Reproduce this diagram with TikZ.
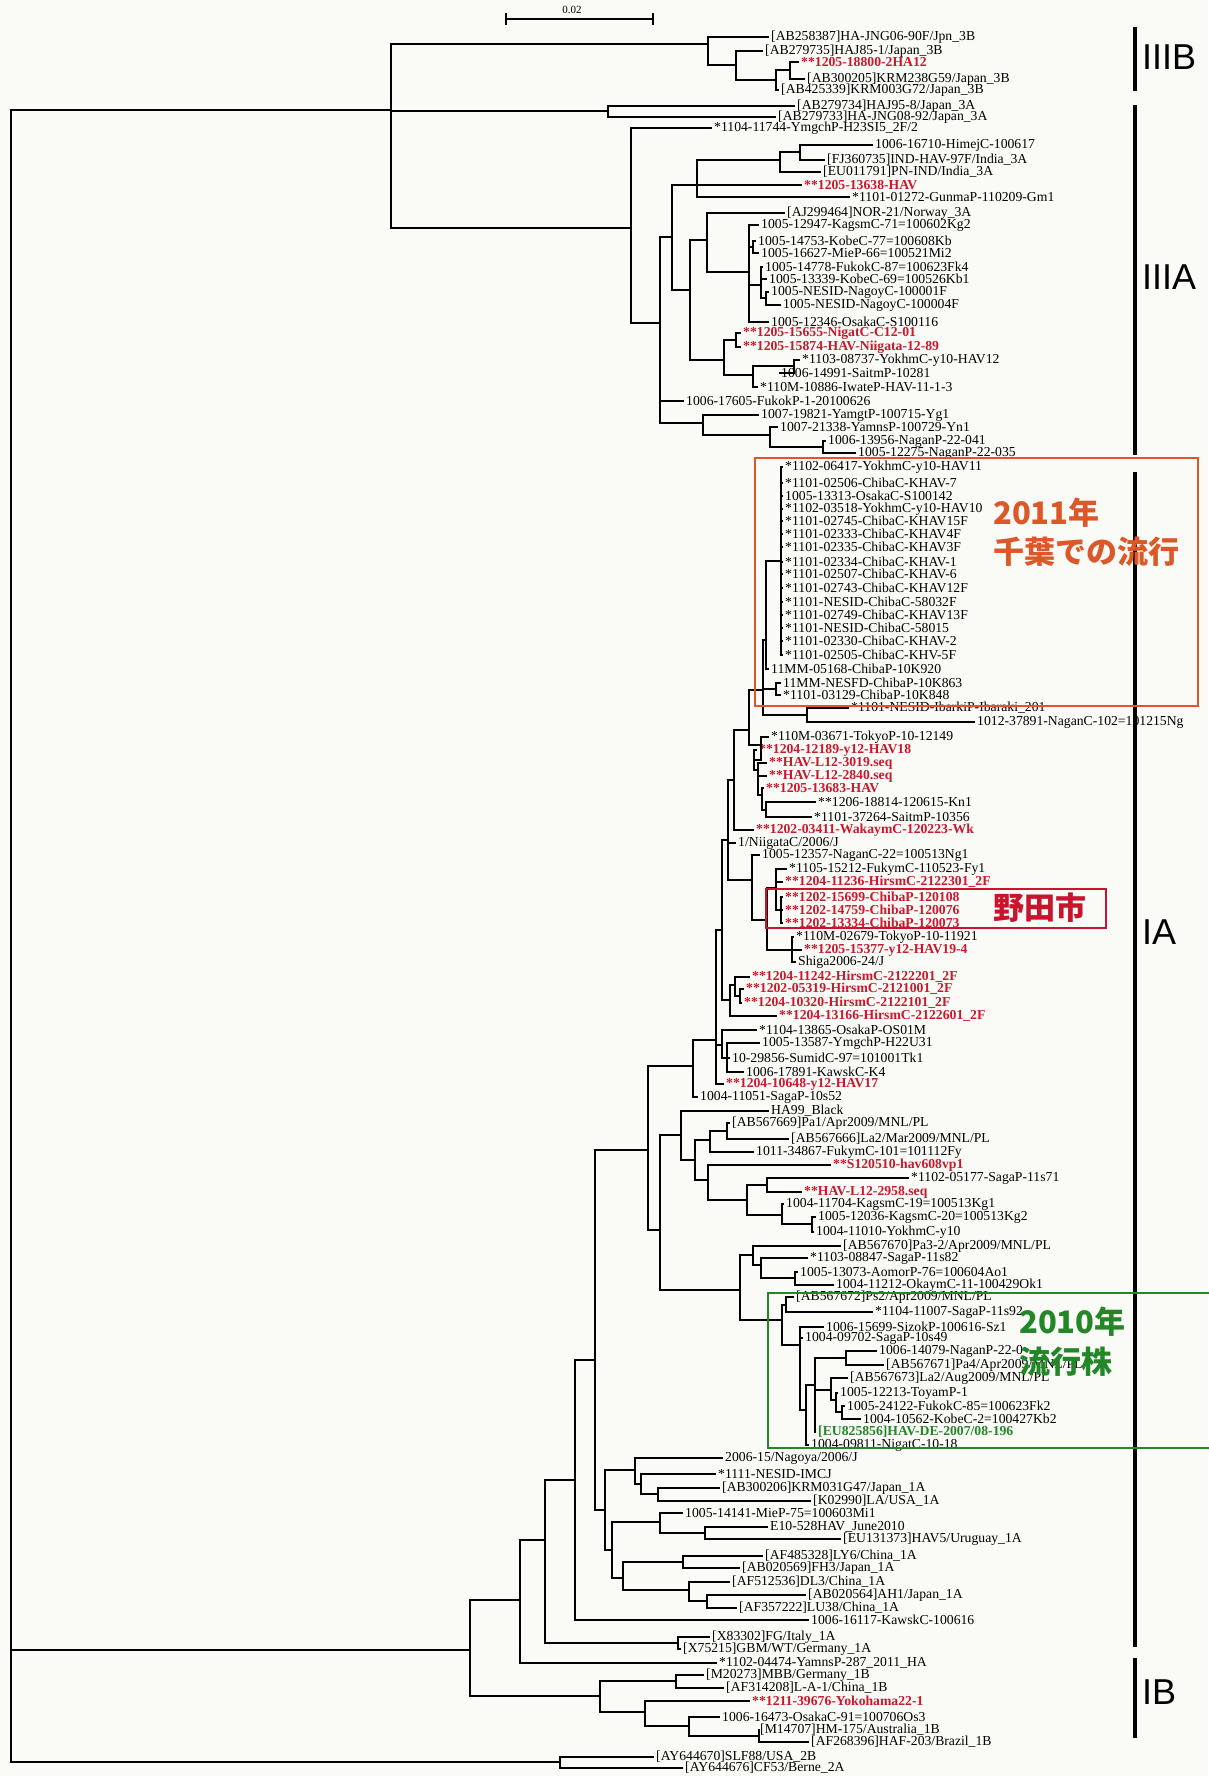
\documentclass[tikz,border=0pt]{standalone}
\usepackage{fontspec}
\setmainfont{Liberation Serif}
\newfontfamily\cladefont{Liberation Sans}
\newfontfamily\jpfont{Noto Sans CJK JP}
\usetikzlibrary{positioning}
\definecolor{hitred}{RGB}{200,25,45}
\definecolor{chibaor}{RGB}{220,88,40}
\definecolor{nodared}{RGB}{200,20,45}
\definecolor{epigreen}{RGB}{35,135,40}
\definecolor{paper}{RGB}{250,250,246}

\begin{document}
\begin{tikzpicture}[x=1pt, y=-1pt,
  br/.style={line width=2.2pt},
  tip/.style={anchor=west, inner xsep=2pt, inner ysep=0pt, font={\fontsize{13.7}{13}\selectfont}},
  tipr/.style={tip, text=hitred, font={\fontsize{13.7}{13}\selectfont\bfseries}},
  tipg/.style={tip, text=epigreen, font={\fontsize{13.7}{13}\selectfont\bfseries}},
  clade/.style={anchor=west, inner sep=0pt, font={\cladefont\fontsize{36}{36}\selectfont}},
  bar/.style={line width=3.4pt},
  note/.style={anchor=west, inner sep=0pt, font={\jpfont\bfseries\fontsize{31}{33}\selectfont}}
]
\fill[paper] (0,0) rectangle (1208,1776);
\useasboundingbox (0,0) rectangle (1208,1776);

% scale bar
\coordinate (sb0) at (506,19);
\coordinate (sb1) at (653,19);
\draw[line width=1.6pt] (sb0) -- (sb1) (506,13) -- (506,25) (653,13) -- (653,25);
\node[font={\fontsize{11}{11}\selectfont}] (sbl) at (572,10) {0.02};

% ---- genotype III ----
\node[tip] (t1) at (769,37) {[AB258387]HA-JNG06-90F/Jpn\_3B};
\node[tip] (t2) at (763,51) {[AB279735]HAJ85-1/Japan\_3B};
\node[tipr] (t3) at (799,62) {**1205-18800-2HA12};
\node[tip] (t4) at (805,79) {[AB300205]KRM238G59/Japan\_3B};
\node[tip] (t5) at (779,90) {[AB425339]KRM003G72/Japan\_3B};
\node[tip] (t6) at (795,106) {[AB279734]HAJ95-8/Japan\_3A};
\node[tip] (t7) at (776,117) {[AB279733]HA-JNG08-92/Japan\_3A};
\node[tip] (t8) at (712,128) {*1104-11744-YmgchP-H23SI5\_2F/2};
\node[tip] (t9) at (873,145) {1006-16710-HimejC-100617};
\node[tip] (t10) at (825,160) {[FJ360735]IND-HAV-97F/India\_3A};
\node[tip] (t11) at (821,172) {[EU011791]PN-IND/India\_3A};
\node[tipr] (t12) at (802,185) {**1205-13638-HAV};
\node[tip] (t13) at (850,197) {*1101-01272-GunmaP-110209-Gm1};
\node[tip] (t14) at (785,213) {[AJ299464]NOR-21/Norway\_3A};
\node[tip] (t15) at (759,225) {1005-12947-KagsmC-71=100602Kg2};
\node[tip] (t16) at (756,241) {1005-14753-KobeC-77=100608Kb};
\node[tip] (t17) at (759,253) {1005-16627-MieP-66=100521Mi2};
\node[tip] (t18) at (763,267) {1005-14778-FukokC-87=100623Fk4};
\node[tip] (t19) at (767,279) {1005-13339-KobeC-69=100526Kb1};
\node[tip] (t20) at (769,292) {1005-NESID-NagoyC-100001F};
\node[tip] (t21) at (781,305) {1005-NESID-NagoyC-100004F};
\node[tip] (t22) at (769,322) {1005-12346-OsakaC-S100116};
\node[tipr] (t23) at (741,333) {**1205-15655-NigatC-C12-01};
\node[tipr] (t24) at (741,347) {**1205-15874-HAV-Niigata-12-89};
\node[tip] (t25) at (800,360) {*1103-08737-YokhmC-y10-HAV12};
\node[tip] (t26) at (779,373) {1006-14991-SaitmP-10281};
\node[tip] (t27) at (758,387) {*110M-10886-IwateP-HAV-11-1-3};
\node[tip] (t28) at (684,401) {1006-17605-FukokP-1-20100626};
\node[tip] (t29) at (759,415) {1007-19821-YamgtP-100715-Yg1};
\node[tip] (t30) at (778,427) {1007-21338-YamnsP-100729-Yn1};
\node[tip] (t31) at (826,441) {1006-13956-NaganP-22-041};
\node[tip] (t32) at (856,453) {1005-12275-NaganP-22-035};

\coordinate (n3b3) at (790,70);
\coordinate (n3b2) at (776,80);
\coordinate (n3b1) at (736,65);
\coordinate (n3b) at (708,44);
\coordinate (n3a) at (608,111);
\coordinate (nA) at (800,152);
\coordinate (nB) at (780,160);
\coordinate (nD) at (697,185);
\coordinate (nJq) at (753,247);
\coordinate (nJs) at (766,298);
\coordinate (nJr) at (761,285);
\coordinate (nJp) at (749,272);
\coordinate (nJ) at (707,240);
\coordinate (nKz) at (794,366);
\coordinate (nKy) at (753,375);
\coordinate (nKn) at (736,340);
\coordinate (nK) at (724,360);
\coordinate (nI) at (690,290);
\coordinate (nE) at (672,237);
\coordinate (nR) at (823,447);
\coordinate (nQ) at (770,435);
\coordinate (nN) at (703,423);
\coordinate (nG) at (660,323);
\coordinate (nF) at (631,228);
\coordinate (nIII) at (391,110);

\draw[br] (n3b3) |- (t3.west) (n3b3) |- (t4.west);
\draw[br] (n3b2) |- (n3b3) (n3b2) |- (t5.west);
\draw[br] (n3b1) |- (t2.west) (n3b1) |- (n3b2);
\draw[br] (n3b) |- (t1.west) (n3b) |- (n3b1);
\draw[br] (n3a) |- (t6.west) (n3a) |- (t7.west);
\draw[br] (nA) |- (t9.west) (nA) |- (t10.west);
\draw[br] (nB) |- (nA) (nB) |- (t11.west);
\draw[br] (nD) |- (nB) (nD) |- (t12.west) (nD) |- (t13.west);
\draw[br] (nJq) |- (t16.west) (nJq) |- (t17.west);
\draw[br] (nJs) |- (t20.west) (nJs) |- (t21.west);
\draw[br] (nJr) |- (t18.west) (nJr) |- (t19.west) (nJr) |- (nJs);
\draw[br] (nJp) |- (t15.west) (nJp) |- (nJq) (nJp) |- (nJr) (nJp) |- (t22.west);
\draw[br] (nJ) |- (t14.west) (nJ) |- (nJp);
\draw[br] (nKz) |- (t25.west) (nKz) |- (t26.west);
\draw[br] (nKy) |- (nKz) (nKy) |- (t27.west);
\draw[br] (nKn) |- (t23.west) (nKn) |- (t24.west);
\draw[br] (nK) |- (nKn) (nK) |- (nKy);
\draw[br] (nI) |- (nJ) (nI) |- (nK);
\draw[br] (nE) |- (nD) (nE) |- (nI);
\draw[br] (nR) |- (t31.west) (nR) |- (t32.west);
\draw[br] (nQ) |- (t30.west) (nQ) |- (nR);
\draw[br] (nN) |- (t29.west) (nN) |- (nQ);
\draw[br] (nG) |- (nE) (nG) |- (t28.west) (nG) |- (nN);
\draw[br] (nF) |- (t8.west) (nF) |- (nG);
\draw[br] (nIII) |- (n3b) (nIII) |- (n3a) (nIII) |- (nF);

% ---- genotype IA: 2011 Chiba cluster and neighbours ----
\node[tip] (c1) at (783,467) {*1102-06417-YokhmC-y10-HAV11};
\node[tip] (c2) at (783,483) {*1101-02506-ChibaC-KHAV-7};
\node[tip] (c3) at (783,496) {1005-13313-OsakaC-S100142};
\node[tip] (c4) at (783,509) {*1102-03518-YokhmC-y10-HAV10};
\node[tip] (c5) at (783,521) {*1101-02745-ChibaC-KHAV15F};
\node[tip] (c6) at (783,534) {*1101-02333-ChibaC-KHAV4F};
\node[tip] (c7) at (783,547) {*1101-02335-ChibaC-KHAV3F};
\node[tip] (c8) at (783,562) {*1101-02334-ChibaC-KHAV-1};
\node[tip] (c9) at (783,574) {*1101-02507-ChibaC-KHAV-6};
\node[tip] (c10) at (783,588) {*1101-02743-ChibaC-KHAV12F};
\node[tip] (c11) at (783,602) {*1101-NESID-ChibaC-58032F};
\node[tip] (c12) at (783,615) {*1101-02749-ChibaC-KHAV13F};
\node[tip] (c13) at (783,628) {*1101-NESID-ChibaC-58015};
\node[tip] (c14) at (783,641) {*1101-02330-ChibaC-KHAV-2};
\node[tip] (c15) at (783,655) {*1101-02505-ChibaC-KHV-5F};
\node[tip] (a1) at (769,669) {11MM-05168-ChibaP-10K920};
\node[tip] (a2) at (781,683) {11MM-NESFD-ChibaP-10K863};
\node[tip] (a3) at (781,695) {*1101-03129-ChibaP-10K848};
\node[tip] (a4) at (849,708) {*1101-NESID-IbarkiP-Ibaraki\_201};
\node[tip] (a5) at (975,722) {1012-37891-NaganC-102=101215Ng};
\node[tip] (a6) at (769,737) {*110M-03671-TokyoP-10-12149};
\node[tipr] (a7) at (757,750) {**1204-12189-y12-HAV18};
\node[tipr] (a8) at (767,763) {**HAV-L12-3019.seq};
\node[tipr] (a9) at (767,776) {**HAV-L12-2840.seq};
\node[tipr] (a10) at (764,788) {**1205-13683-HAV};
\node[tip] (a11) at (816,802) {**1206-18814-120615-Kn1};
\node[tip] (a12) at (812,817) {*1101-37264-SaitmP-10356};
\node[tipr] (a13) at (754,830) {**1202-03411-WakaymC-120223-Wk};
\node[tip] (b1) at (736,843) {1/NiigataC/2006/J};
\node[tip] (b2) at (760,855) {1005-12357-NaganC-22=100513Ng1};
\node[tip] (b3) at (787,869) {*1105-15212-FukymC-110523-Fy1};
\node[tipr] (b4) at (783,882) {**1204-11236-HirsmC-2122301\_2F};
\node[tipr] (b5) at (783,897) {**1202-15699-ChibaP-120108};
\node[tipr] (b6) at (783,910) {**1202-14759-ChibaP-120076};
\node[tipr] (b7) at (783,923) {**1202-13334-ChibaP-120073};
\node[tip] (b8) at (794,937) {*110M-02679-TokyoP-10-11921};
\node[tipr] (b9) at (802,950) {**1205-15377-y12-HAV19-4};
\node[tip] (b10) at (796,962) {Shiga2006-24/J};
\node[tipr] (b11) at (750,977) {**1204-11242-HirsmC-2122201\_2F};
\node[tipr] (b12) at (744,989) {**1202-05319-HirsmC-2121001\_2F};
\node[tipr] (b13) at (742,1003) {**1204-10320-HirsmC-2122101\_2F};
\node[tipr] (b14) at (777,1016) {**1204-13166-HirsmC-2122601\_2F};
\node[tip] (b15) at (757,1030) {*1104-13865-OsakaP-OS01M};
\node[tip] (b16) at (760,1043) {1005-13587-YmgchP-H22U31};
\node[tip] (b17) at (730,1058) {10-29856-SumidC-97=101001Tk1};
\node[tip] (b18) at (744,1072) {1006-17891-KawskC-K4};
\node[tipr] (b19) at (724,1084) {**1204-10648-y12-HAV17};
\node[tip] (b20) at (698,1097) {1004-11051-SagaP-10s52};

\coordinate (poly) at (781,561);
\coordinate (ch1) at (766,640);
\coordinate (ch3) at (776,689);
\coordinate (ch4) at (807,715);
\coordinate (ch2) at (763,690);
\coordinate (r1) at (766,810);
\coordinate (r2) at (762,795);
\coordinate (r3) at (758,770);
\coordinate (r4) at (754,760);
\coordinate (tb) at (761,745);
\coordinate (ta) at (749,730);
\coordinate (tc) at (734,780);
\coordinate (nd) at (781,910);
\coordinate (nc) at (776,888);
\coordinate (ns) at (792,950);
\coordinate (nb) at (767,920);
\coordinate (na) at (752,880);
\coordinate (q3) at (728,840);
\coordinate (hh1) at (740,996);
\coordinate (hh2) at (735,985);
\coordinate (hh3) at (730,1000);
\coordinate (q2) at (722,930);
\coordinate (s1) at (727,1058);
\coordinate (s2) at (722,1045);
\coordinate (q1) at (716,1040);
\coordinate (q0) at (693,1066);

\draw[br] (poly) |- (c1.west) (poly) |- (c2.west) (poly) |- (c3.west) (poly) |- (c4.west)
  (poly) |- (c5.west) (poly) |- (c6.west) (poly) |- (c7.west) (poly) |- (c8.west)
  (poly) |- (c9.west) (poly) |- (c10.west) (poly) |- (c11.west) (poly) |- (c12.west)
  (poly) |- (c13.west) (poly) |- (c14.west) (poly) |- (c15.west);
\draw[br] (ch1) |- (poly) (ch1) |- (a1.west);
\draw[br] (ch3) |- (a2.west) (ch3) |- (a3.west);
\draw[br] (ch4) |- (a4.west) (ch4) |- (a5.west);
\draw[br] (ch2) |- (ch1) (ch2) |- (ch3) (ch2) |- (ch4);
\draw[br] (r1) |- (a11.west) (r1) |- (a12.west);
\draw[br] (r2) |- (a10.west) (r2) |- (r1);
\draw[br] (r3) |- (a8.west) (r3) |- (a9.west) (r3) |- (r2);
\draw[br] (r4) |- (a7.west) (r4) |- (r3);
\draw[br] (tb) |- (a6.west) (tb) |- (r4);
\draw[br] (ta) |- (ch2) (ta) |- (tb);
\draw[br] (tc) |- (ta) (tc) |- (a13.west);
\draw[br] (nd) |- (b5.west) (nd) |- (b6.west) (nd) |- (b7.west);
\draw[br] (nc) |- (b3.west) (nc) |- (b4.west) (nc) |- (nd);
\draw[br] (ns) |- (b8.west) (ns) |- (b9.west) (ns) |- (b10.west);
\draw[br] (nb) |- (nc) (nb) |- (ns);
\draw[br] (na) |- (b2.west) (na) |- (nb);
\draw[br] (q3) |- (tc) (q3) |- (b1.west) (q3) |- (na);
\draw[br] (hh1) |- (b12.west) (hh1) |- (b13.west);
\draw[br] (hh2) |- (b11.west) (hh2) |- (hh1);
\draw[br] (hh3) |- (hh2) (hh3) |- (b14.west);
\draw[br] (q2) |- (q3) (q2) |- (hh3);
\draw[br] (s1) |- (b16.west) (s1) |- (b17.west) (s1) |- (b18.west);
\draw[br] (s2) |- (b15.west) (s2) |- (s1);
\draw[br] (q1) |- (q2) (q1) |- (s2) (q1) |- (b19.west);
\draw[br] (q0) |- (q1) (q0) |- (b20.west);

% ---- genotype IA: 2009/2010 strains ----
\node[tip] (h1) at (769,1111) {HA99\_Black};
\node[tip] (h2) at (730,1123) {[AB567669]Pa1/Apr2009/MNL/PL};
\node[tip] (h3) at (789,1139) {[AB567666]La2/Mar2009/MNL/PL};
\node[tip] (h4) at (754,1152) {1011-34867-FukymC-101=101112Fy};
\node[tipr] (h5) at (831,1165) {**S120510-hav608vp1};
\node[tip] (h6) at (909,1178) {*1102-05177-SagaP-11s71};
\node[tipr] (h7) at (802,1192) {**HAV-L12-2958.seq};
\node[tip] (h8) at (784,1204) {1004-11704-KagsmC-19=100513Kg1};
\node[tip] (h9) at (816,1217) {1005-12036-KagsmC-20=100513Kg2};
\node[tip] (h10) at (814,1232) {1004-11010-YokhmC-y10};
\node[tip] (h11) at (841,1246) {[AB567670]Pa3-2/Apr2009/MNL/PL};
\node[tip] (h12) at (808,1258) {*1103-08847-SagaP-11s82};
\node[tip] (h13) at (798,1272) {1005-13073-AomorP-76=100604Ao1};
\node[tip] (h14) at (834,1285) {1004-11212-OkaymC-11-100429Ok1};
\node[tip] (g1) at (794,1297) {[AB567672]Ps2/Apr2009/MNL/PL};
\node[tip] (g2) at (873,1312) {*1104-11007-SagaP-11s92};
\node[tip] (g3) at (824,1327) {1006-15699-SizokP-100616-Sz1};
\node[tip] (g4) at (803,1338) {1004-09702-SagaP-10s49};
\node[tip] (g5) at (877,1351) {1006-14079-NaganP-22-0};
\node[tip] (g6) at (884,1365) {[AB567671]Pa4/Apr2009/MNL/PL};
\node[tip] (g7) at (848,1378) {[AB567673]La2/Aug2009/MNL/PL};
\node[tip] (g8) at (838,1393) {1005-12213-ToyamP-1};
\node[tip] (g9) at (845,1406) {1005-24122-FukokC-85=100623Fk2};
\node[tip] (g10) at (861,1419) {1004-10562-KobeC-2=100427Kb2};
\node[tipg] (g11) at (816,1432) {[EU825856]HAV-DE-2007/08-196};
\node[tip] (g12) at (809,1445) {1004-09811-NigatC-10-18};

\coordinate (cpa) at (727,1131);
\coordinate (ca) at (710,1140);
\coordinate (csh) at (767,1185);
\coordinate (ckg2) at (812,1224);
\coordinate (ckg) at (782,1215);
\coordinate (csg) at (747,1200);
\coordinate (cb) at (708,1180);
\coordinate (cab) at (695,1160);
\coordinate (ch) at (681,1135);
\coordinate (cok) at (795,1278);
\coordinate (cao) at (761,1265);
\coordinate (cpa3) at (753,1255);
\coordinate (gps) at (786,1305);
\coordinate (gpa4) at (846,1358);
\coordinate (gt3) at (842,1412);
\coordinate (gt2) at (836,1400);
\coordinate (gt1) at (831,1390);
\coordinate (gx) at (815,1385);
\coordinate (gy) at (806,1410);
\coordinate (gz) at (800,1345);
\coordinate (ga) at (782,1320);
\coordinate (cm) at (740,1290);
\coordinate (ctop) at (660,1230);
\coordinate (qq) at (648,1150);

\draw[br] (cpa) |- (h2.west) (cpa) |- (h3.west);
\draw[br] (ca) |- (cpa) (ca) |- (h4.west);
\draw[br] (csh) |- (h6.west) (csh) |- (h7.west);
\draw[br] (ckg2) |- (h9.west) (ckg2) |- (h10.west);
\draw[br] (ckg) |- (h8.west) (ckg) |- (ckg2);
\draw[br] (csg) |- (csh) (csg) |- (ckg);
\draw[br] (cb) |- (h5.west) (cb) |- (csg);
\draw[br] (cab) |- (ca) (cab) |- (cb);
\draw[br] (ch) |- (h1.west) (ch) |- (cab);
\draw[br] (cok) |- (h13.west) (cok) |- (h14.west);
\draw[br] (cao) |- (h12.west) (cao) |- (cok);
\draw[br] (cpa3) |- (h11.west) (cpa3) |- (cao);
\draw[br] (gps) |- (g1.west) (gps) |- (g2.west);
\draw[br] (gpa4) |- (g5.west) (gpa4) |- (g6.west);
\draw[br] (gt3) |- (g9.west) (gt3) |- (g10.west);
\draw[br] (gt2) |- (g8.west) (gt2) |- (gt3);
\draw[br] (gt1) |- (g7.west) (gt1) |- (gt2);
\draw[br] (gx) |- (gpa4) (gx) |- (gt1) (gx) |- (g11.west);
\draw[br] (gy) |- (gx) (gy) |- (g12.west);
\draw[br] (gz) |- (g3.west) (gz) |- (g4.west) (gz) |- (gy);
\draw[br] (ga) |- (gps) (ga) |- (gz);
\draw[br] (cm) |- (cpa3) (cm) |- (ga);
\draw[br] (ctop) |- (ch) (ctop) |- (cm);
\draw[br] (qq) |- (q0) (qq) |- (ctop);

% ---- IA references, IB, genotype II ----
\node[tip] (d1) at (723,1458) {2006-15/Nagoya/2006/J};
\node[tip] (d2) at (716,1474) {*1111-NESID-IMCJ};
\node[tip] (d3) at (720,1488) {[AB300206]KRM031G47/Japan\_1A};
\node[tip] (d4) at (811,1501) {[K02990]LA/USA\_1A};
\node[tip] (d5) at (683,1513) {1005-14141-MieP-75=100603Mi1};
\node[tip] (d6) at (768,1527) {E10-528HAV\_June2010};
\node[tip] (d7) at (841,1539) {[EU131373]HAV5/Uruguay\_1A};
\node[tip] (d8) at (763,1556) {[AF485328]LY6/China\_1A};
\node[tip] (d9) at (740,1568) {[AB020569]FH3/Japan\_1A};
\node[tip] (d10) at (730,1582) {[AF512536]DL3/China\_1A};
\node[tip] (d11) at (806,1595) {[AB020564]AH1/Japan\_1A};
\node[tip] (d12) at (737,1608) {[AF357222]LU38/China\_1A};
\node[tip] (d13) at (809,1620) {1006-16117-KawskC-100616};
\node[tip] (e1) at (710,1637) {[X83302]FG/Italy\_1A};
\node[tip] (e2) at (681,1649) {[X75215]GBM/WT/Germany\_1A};
\node[tip] (e3) at (717,1663) {*1102-04474-YamnsP-287\_2011\_HA};
\node[tip] (e4) at (704,1675) {[M20273]MBB/Germany\_1B};
\node[tip] (e5) at (724,1688) {[AF314208]L-A-1/China\_1B};
\node[tipr] (e6) at (750,1701) {**1211-39676-Yokohama22-1};
\node[tip] (e7) at (720,1717) {1006-16473-OsakaC-91=100706Os3};
\node[tip] (e8) at (758,1730) {[M14707]HM-175/Australia\_1B};
\node[tip] (e9) at (809,1742) {[AF268396]HAF-203/Brazil\_1B};
\node[tip] (e10) at (654,1757) {[AY644670]SLF88/USA\_2B};
\node[tip] (e11) at (683,1768) {[AY644676]CF53/Berne\_2A};

\coordinate (dk) at (658,1494);
\coordinate (dn2) at (641,1484);
\coordinate (dn) at (635,1470);
\coordinate (de) at (705,1533);
\coordinate (dm) at (660,1522);
\coordinate (dly) at (683,1562);
\coordinate (dch2) at (707,1601);
\coordinate (dch1) at (689,1590);
\coordinate (dc) at (623,1578);
\coordinate (dx) at (612,1550);
\coordinate (dtop) at (605,1510);
\coordinate (eu) at (678,1643);
\coordinate (ib4) at (759,1736);
\coordinate (ib3) at (689,1726);
\coordinate (ib2) at (645,1712);
\coordinate (ib1) at (676,1681);
\coordinate (nIB) at (600,1696);
\coordinate (iax) at (595,1360);
\coordinate (iay) at (575,1480);
\coordinate (iaz) at (545,1540);
\coordinate (nIA) at (520,1600);
\coordinate (nI) at (470,1650);
\coordinate (nII) at (560,1762);
\coordinate (root) at (11,900);

\draw[br] (dk) |- (d3.west) (dk) |- (d4.west);
\draw[br] (dn2) |- (d2.west) (dn2) |- (dk);
\draw[br] (dn) |- (d1.west) (dn) |- (dn2);
\draw[br] (de) |- (d6.west) (de) |- (d7.west);
\draw[br] (dm) |- (d5.west) (dm) |- (de);
\draw[br] (dly) |- (d8.west) (dly) |- (d9.west);
\draw[br] (dch2) |- (d11.west) (dch2) |- (d12.west);
\draw[br] (dch1) |- (d10.west) (dch1) |- (dch2);
\draw[br] (dc) |- (dly) (dc) |- (dch1);
\draw[br] (dx) |- (dm) (dx) |- (dc);
\draw[br] (dtop) |- (dn) (dtop) |- (dx);
\draw[br] (eu) |- (e1.west) (eu) |- (e2.west);
\draw[br] (ib4) |- (e8.west) (ib4) |- (e9.west);
\draw[br] (ib3) |- (e7.west) (ib3) |- (ib4);
\draw[br] (ib2) |- (e6.west) (ib2) |- (ib3);
\draw[br] (ib1) |- (e4.west) (ib1) |- (e5.west);
\draw[br] (nIB) |- (ib1) (nIB) |- (ib2);
\draw[br] (iax) |- (qq) (iax) |- (dtop);
\draw[br] (iay) |- (iax) (iay) |- (d13.west);
\draw[br] (iaz) |- (iay) (iaz) |- (eu);
\draw[br] (nIA) |- (iaz) (nIA) |- (e3.west);
\draw[br] (nI) |- (nIA) (nI) |- (nIB);
\draw[br] (nII) |- (e10.west) (nII) |- (e11.west);
\draw[br] (root) |- (nIII) (root) |- (nI) (root) |- (nII);

% ---- clade bars ----
\draw[bar] (1135,27) -- (1135,91);
\draw[bar] (1135,105) -- (1135,455);
\draw[bar] (1135,472) -- (1135,1647);
\draw[bar] (1135,1658) -- (1135,1738);
\node[clade] (k3b) at (1142,57) {IIIB};
\node[clade] (k3a) at (1142,277) {IIIA};
\node[clade] (k1a) at (1142,932) {IA};
\node[clade] (k1b) at (1142,1692) {IB};

% ---- highlighted groups ----
\draw[chibaor, line width=2.6pt] (755,458) rectangle (1198,706);
\node[note, text=chibaor] (yr11) at (993,513) {2011年};
\node[note, text=chibaor] (chiba) at (993,552) {千葉での流行};
\draw[nodared, line width=2.6pt] (766,889) rectangle (1106,928);
\node[note, text=nodared] (noda) at (993,908) {野田市};
\draw[epigreen, line width=2.6pt] (768,1293) rectangle (1215,1448);
\node[note, text=epigreen] (yr10) at (1019,1322) {2010年};
\node[note, text=epigreen] (epi) at (1019,1362) {流行株};
\end{tikzpicture}
\end{document}
